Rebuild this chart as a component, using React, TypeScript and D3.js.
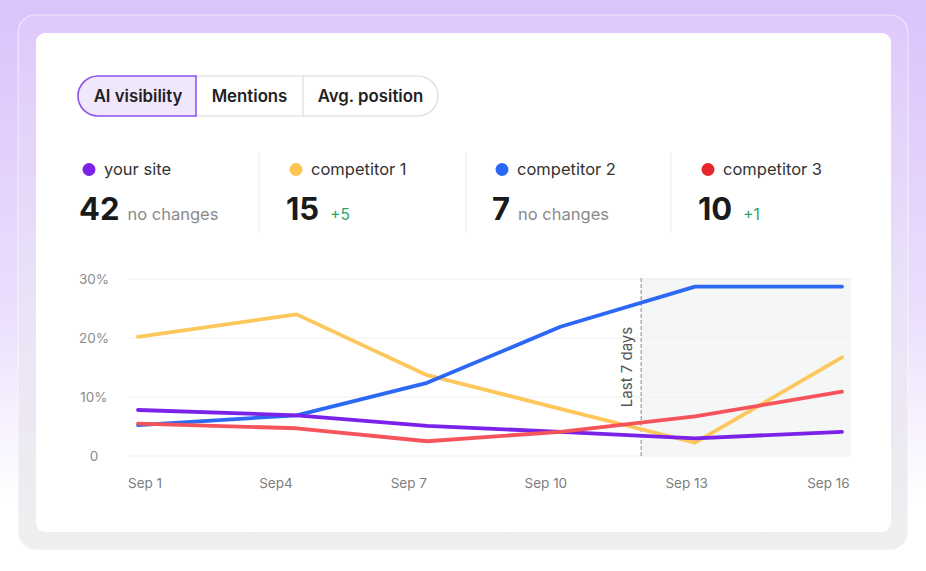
import React from "react";
import * as d3 from "d3";

// Series values, in percent, sampled at the day positions below
const days = [1, 4.38, 7.16, 10, 12.87, 16];
const yourSite = [7.8, 6.9, 5.1, 4.1, 3.0, 4.1];
const competitor1 = [20.2, 24.0, 13.7, 8.0, 2.25, 16.7];
const competitor2 = [5.25, 6.9, 12.4, 21.9, 28.7, 28.7];
const competitor3 = [5.5, 4.7, 2.5, 4.1, 6.7, 10.9];

const xTickLabels = ["Sep 1", "Sep4", "Sep 7", "Sep 10", "Sep 13", "Sep 16"];
const xTickDays = [1.15, 3.94, 6.77, 9.69, 12.69, 15.71];
const yTicks = [0, 10, 20, 30];
const lastWeekStart = 11.72;

const tabs = ["AI visibility", "Mentions", "Avg. position"];
const seriesNames = ["your site", "competitor 1", "competitor 2", "competitor 3"];
const seriesTotals = [42, 15, 7, 10];
const seriesChanges = ["no changes", "+5", "no changes", "+1"];

const lineColors = ["#7a22e8", "#fdc75c", "#2d68f4", "#f5545b"];
const dotColors = ["#7a22e8", "#fdc550", "#2d68f4", "#e8272c"];

const W = 926;
const H = 571;

export default function App() {
  const x = d3.scaleLinear().domain([1, 16]).range([138, 842]);
  const y = d3.scaleLinear().domain([0, 30]).range([456, 279]);
  const plotLeft = 128;
  const plotRight = 851;

  const line = d3
    .line<[number, number]>()
    .x((d) => x(d[0]))
    .y((d) => y(d[1]));

  const series = [yourSite, competitor1, competitor2, competitor3];
  const order = [1, 2, 0, 3];

  // tab geometry
  const tabX = [78, 196, 303, 438];
  const tabTop = 76;
  const tabH = 40;

  // stat columns
  const colX = [79, 286, 492, 698];
  const dividersX = [259, 466, 671];

  const font = "Inter, 'Noto Sans', sans-serif";

  return (
    <svg
      width={W}
      height={H}
      viewBox={`0 0 ${W} ${H}`}
      style={{ position: "absolute", left: 0, top: 0, fontFamily: font }}
    >
      <defs>
        <linearGradient id="bg" x1="0" y1="0" x2="0" y2="1">
          <stop offset="0" stopColor="#dbc3fb" />
          <stop offset="0.55" stopColor="#ebdffd" />
          <stop offset="0.88" stopColor="#ffffff" />
        </linearGradient>
        <linearGradient id="frame" x1="0" y1="0" x2="0" y2="1">
          <stop offset="0" stopColor="#dfc9fc" />
          <stop offset="0.55" stopColor="#ebe3f7" />
          <stop offset="1" stopColor="#efefef" />
        </linearGradient>
      </defs>
      <rect x={0} y={0} width={W} height={H} fill="url(#bg)" />
      <rect
        x={18}
        y={15}
        width={890}
        height={535}
        rx={18}
        fill="url(#frame)"
        stroke="rgba(255,255,255,0.55)"
        strokeWidth={1.2}
      />
      <rect x={36} y={33} width={855} height={499} rx={9} fill="#ffffff" />

      {/* segmented tabs */}
      <rect
        x={tabX[0]}
        y={tabTop}
        width={tabX[3] - tabX[0]}
        height={tabH}
        rx={tabH / 2}
        fill="#fff"
        stroke="#d9d9d9"
        strokeWidth={1.2}
      />
      <path
        d={`M${tabX[1]},${tabTop} H${tabX[0] + tabH / 2} A${tabH / 2},${tabH / 2} 0 0 0 ${tabX[0] + tabH / 2},${tabTop + tabH} H${tabX[1]} Z`}
        fill="#f1e7fd"
        stroke="#8d55ee"
        strokeWidth={1.6}
      />
      <line x1={tabX[2]} x2={tabX[2]} y1={tabTop} y2={tabTop + tabH} stroke="#d9d9d9" strokeWidth={1.2} />
      {tabs.map((t, i) => (
        <text
          key={t}
          x={(tabX[i] + tabX[i + 1]) / 2 + (i === 0 ? 1 : 0)}
          y={tabTop + tabH / 2 + 6}
          textAnchor="middle"
          fontSize={16.8}
          fontWeight={600}
          fill="#222"
        >
          {t}
        </text>
      ))}

      {/* stats */}
      {dividersX.map((dx) => (
        <line key={dx} x1={dx} x2={dx} y1={152} y2={233} stroke="#f1f1f1" strokeWidth={1.2} />
      ))}
      {seriesNames.map((name, i) => {
        const cx = colX[i];
        const positive = seriesChanges[i].startsWith("+");
        return (
          <g key={name}>
            <circle cx={cx + 10} cy={169.5} r={6.5} fill={dotColors[i]} />
            <text x={cx + 25} y={175} fontSize={16.5} fill="#333">
              {name}
            </text>
            <text x={cx} y={220}>
              <tspan fontSize={31} fontWeight={700} fill="#1a1a1a">
                {String(seriesTotals[i])}
              </tspan>
              <tspan
                dx={positive ? 11 : 8}
                fontSize={positive ? 15.5 : 16.5}
                fill={positive ? "#2ba56c" : "#8a8a8a"}
              >
                {seriesChanges[i]}
              </tspan>
            </text>
          </g>
        );
      })}

      {/* last 7 days shading */}
      <rect
        x={x(lastWeekStart)}
        y={y(30) - 1}
        width={plotRight - x(lastWeekStart)}
        height={y(0) - y(30) + 1}
        fill="#f5f6f6"
      />

      {/* grid */}
      {yTicks.map((t) => (
        <g key={t}>
          <line x1={plotLeft} x2={plotRight} y1={y(t)} y2={y(t)} stroke="#efefef" strokeWidth={1} />
          <text x={94} y={y(t) + 5} textAnchor="middle" fontSize={13.5} fill="#8c8c8c">
            {t === 0 ? "0" : `${t}%`}
          </text>
        </g>
      ))}

      <line
        x1={x(lastWeekStart)}
        x2={x(lastWeekStart)}
        y1={y(30) - 1}
        y2={y(0)}
        stroke="#8a8a8a"
        strokeWidth={1}
        strokeDasharray="4,2"
      />
      <text
        transform={`translate(${x(lastWeekStart) - 9},${367}) rotate(-90)`}
        textAnchor="middle"
        fontSize={15}
        fill="#555"
      >
        Last 7 days
      </text>

      {/* x labels */}
      {xTickLabels.map((l, i) => (
        <text
          key={l}
          x={x(xTickDays[i])}
          y={488}
          textAnchor="middle"
          fontSize={13.5}
          fill="#7d7d7d"
        >
          {l}
        </text>
      ))}

      {/* lines */}
      {order.map((si) => (
        <path
          key={si}
          d={line(days.map((d, k) => [d, series[si][k]]) as [number, number][]) || ""}
          fill="none"
          stroke={lineColors[si]}
          strokeWidth={3.8}
          strokeLinejoin="round"
          strokeLinecap="round"
        />
      ))}
    </svg>
  );
}
